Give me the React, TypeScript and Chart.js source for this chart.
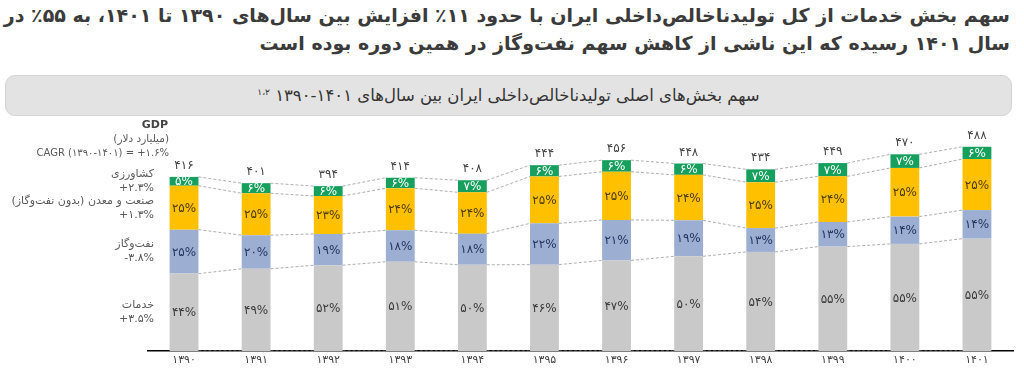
import React, { useEffect, useRef } from "react";
import { Chart, registerables } from "chart.js";

Chart.register(...registerables);

const FONT = '"DejaVu Sans", "Noto Sans", sans-serif';

// ---- data ----
const years = [1390, 1391, 1392, 1393, 1394, 1395, 1396, 1397, 1398, 1399, 1400, 1401];
const gdpTotals = [416, 401, 394, 414, 408, 444, 456, 448, 434, 449, 470, 488];
const servicesPct = [44, 49, 52, 51, 50, 46, 47, 50, 54, 55, 55, 55];
const oilGasPct = [25, 20, 19, 18, 18, 22, 21, 19, 13, 13, 14, 14];
const industryPct = [25, 25, 23, 24, 24, 25, 25, 24, 25, 24, 25, 25];
const agriculturePct = [5, 6, 6, 6, 7, 6, 6, 6, 7, 7, 7, 6];

const seriesNames = ["خدمات", "نفت\u200cوگاز", "صنعت و معدن (بدون نفت\u200cوگاز)", "کشاورزی"];
const seriesCagr = ["+3.5%", "-3.8%", "+1.3%", "+2.3%"];
const seriesColors = ["#c9c9c9", "#9cafd2", "#ffc000", "#17a05d"];
const labelColors = ["#3a3a3a", "#22355e", "#4a3a0c", "#ffffff"];

const titleLine1 = "سهم بخش خدمات از کل تولیدناخالص\u200cداخلی ایران با حدود ۱۱٪ افزایش بین سال\u200cهای ۱۳۹۰ تا ۱۴۰۱، به ۵۵٪ در";
const titleLine2 = "سال ۱۴۰۱ رسیده که این ناشی از کاهش سهم نفت\u200cوگاز در همین دوره بوده است";
const subtitle = "سهم بخش\u200cهای اصلی تولیدناخالص\u200cداخلی ایران بین سال\u200cهای";
const subtitleRange = "۱۳۹۰-۱۴۰۱";
const subtitleNote = "۱،۲";
const gdpHeader = ["GDP", "(میلیارد دلار)", "CAGR (1390-1401) = +1.6%"];

function toFa(v: number | string): string {
  return String(v).replace(/[0-9]/g, (d) => "۰۱۲۳۴۵۶۷۸۹"[+d]);
}

const pctSeries = [servicesPct, oilGasPct, industryPct, agriculturePct];

function segmentValues(k: number): number[] {
  return gdpTotals.map((t, j) => {
    const sum = pctSeries.reduce((s, arr) => s + arr[j], 0);
    return (t * pctSeries[k][j]) / sum;
  });
}

const overlayPlugin = {
  id: "overlay",
  beforeDatasetsDraw(chart: any) {
    const ctx = chart.ctx;
    const y = chart.scales.y;
    const metas = [0, 1, 2, 3].map((i) => chart.getDatasetMeta(i));
    ctx.save();
    ctx.strokeStyle = "#9a9a9a";
    ctx.lineWidth = 0.8;
    ctx.setLineDash([3, 2]);
    for (let lvl = 0; lvl <= 4; lvl++) {
      for (let j = 0; j < years.length - 1; j++) {
        const cum = (jj: number) => {
          let s = 0;
          for (let k = 0; k < lvl; k++) s += chart.data.datasets[k].data[jj];
          return s;
        };
        const b1 = metas[0].data[j];
        const b2 = metas[0].data[j + 1];
        const x1 = b1.x + b1.width / 2;
        const x2 = b2.x - b2.width / 2;
        ctx.beginPath();
        ctx.moveTo(x1, y.getPixelForValue(cum(j)));
        ctx.lineTo(x2, y.getPixelForValue(cum(j + 1)));
        ctx.stroke();
      }
    }
    ctx.restore();
  },
  afterDatasetsDraw(chart: any) {
    const ctx = chart.ctx;
    ctx.save();
    ctx.textAlign = "center";
    ctx.textBaseline = "middle";
    // segment labels
    for (let k = 0; k < 4; k++) {
      const meta = chart.getDatasetMeta(k);
      meta.data.forEach((bar: any, j: number) => {
        ctx.fillStyle = labelColors[k];
        ctx.font = `12px ${FONT}`;
        ctx.direction = "ltr";
        ctx.fillText(toFa(pctSeries[k][j]) + "%", bar.x, (bar.y + bar.base) / 2 + 1);
      });
    }
    // totals
    const top = chart.getDatasetMeta(3);
    top.data.forEach((bar: any, j: number) => {
      ctx.fillStyle = "#444";
      ctx.font = `12px ${FONT}`;
      ctx.fillText(toFa(gdpTotals[j]), bar.x, bar.y - 11);
    });
    // left labels
    ctx.textAlign = "right";
    ctx.fillStyle = "#444";
    ctx.font = `bold 11px ${FONT}`;
    ctx.direction = "ltr";
    ctx.fillText(gdpHeader[0], 168, 8);
    ctx.fillStyle = "#5a5a5a";
    ctx.font = `10.5px ${FONT}`;
    ctx.direction = "rtl";
    ctx.fillText(gdpHeader[1], 169, 22);
    ctx.direction = "ltr";
    ctx.font = `10px ${FONT}`;
    ctx.fillText(toFa(gdpHeader[2]), 169, 36);
    for (let k = 0; k < 4; k++) {
      const bar = chart.getDatasetMeta(k).data[0];
      const mid = (bar.y + bar.base) / 2;
      ctx.direction = "rtl";
      ctx.font = `11px ${FONT}`;
      ctx.fillText(seriesNames[k], 154, mid - 7);
      ctx.direction = "ltr";
      ctx.fillText(toFa(seriesCagr[k]), 154, mid + 7);
    }
    ctx.restore();
  },
};

export default function App() {
  const canvasRef = useRef<HTMLCanvasElement | null>(null);

  useEffect(() => {
    document.body.style.margin = "0";
    if (!canvasRef.current) return;
    const chart = new Chart(canvasRef.current, {
      type: "bar",
      data: {
        labels: years.map((y) => toFa(y)),
        datasets: [0, 1, 2, 3].map((k) => ({
          label: seriesNames[k],
          data: segmentValues(k),
          backgroundColor: seriesColors[k],
          borderWidth: 0,
          barPercentage: 0.4,
          categoryPercentage: 1,
        })),
      },
      options: {
        animation: false,
        responsive: true,
        maintainAspectRatio: false,
        layout: { padding: { left: 148, right: 11, top: 8, bottom: 0 } },
        plugins: { legend: { display: false }, tooltip: { enabled: false } },
        scales: {
          x: {
            stacked: true,
            grid: { display: false, drawTicks: false },
            border: { display: true, color: "#000", width: 1.5 },
            ticks: { color: "#444", font: { family: FONT, size: 11 }, padding: 3 },
            afterFit: (s: any) => {
              s.height = 23;
            },
          },
          y: { stacked: true, display: false, min: 0, max: 540 },
        },
      },
      plugins: [overlayPlugin],
    } as any);
    return () => chart.destroy();
  }, []);

  return (
    <div style={{ position: "relative", width: 1024, height: 374, background: "#fff", overflow: "hidden" }}>
      <div
        dir="rtl"
        style={{
          position: "absolute",
          right: 14,
          top: 1,
          fontFamily: FONT,
          fontWeight: "bold",
          fontSize: 19,
          lineHeight: "28px",
          color: "#3b3b3b",
          whiteSpace: "nowrap",
          textAlign: "right",
        }}
      >
        {titleLine1}
        <br />
        {titleLine2}
      </div>
      <div
        style={{
          position: "absolute",
          left: 5,
          top: 75,
          width: 1007,
          height: 41,
          boxSizing: "border-box",
          background: "#e3e3e3",
          border: "1px solid #d3d3d3",
          borderRadius: 10,
          display: "flex",
          alignItems: "center",
          justifyContent: "center",
        }}
      >
        <span dir="rtl" style={{ fontFamily: FONT, fontSize: 16.5, color: "#333" }}>
          {subtitle} <span dir="ltr">{subtitleRange}</span> <sup style={{ fontSize: 9 }}>{subtitleNote}</sup>
        </span>
      </div>
      <div style={{ position: "absolute", left: 0, top: 117, width: 1024, height: 257 }}>
        <canvas ref={canvasRef} />
      </div>
    </div>
  );
}
